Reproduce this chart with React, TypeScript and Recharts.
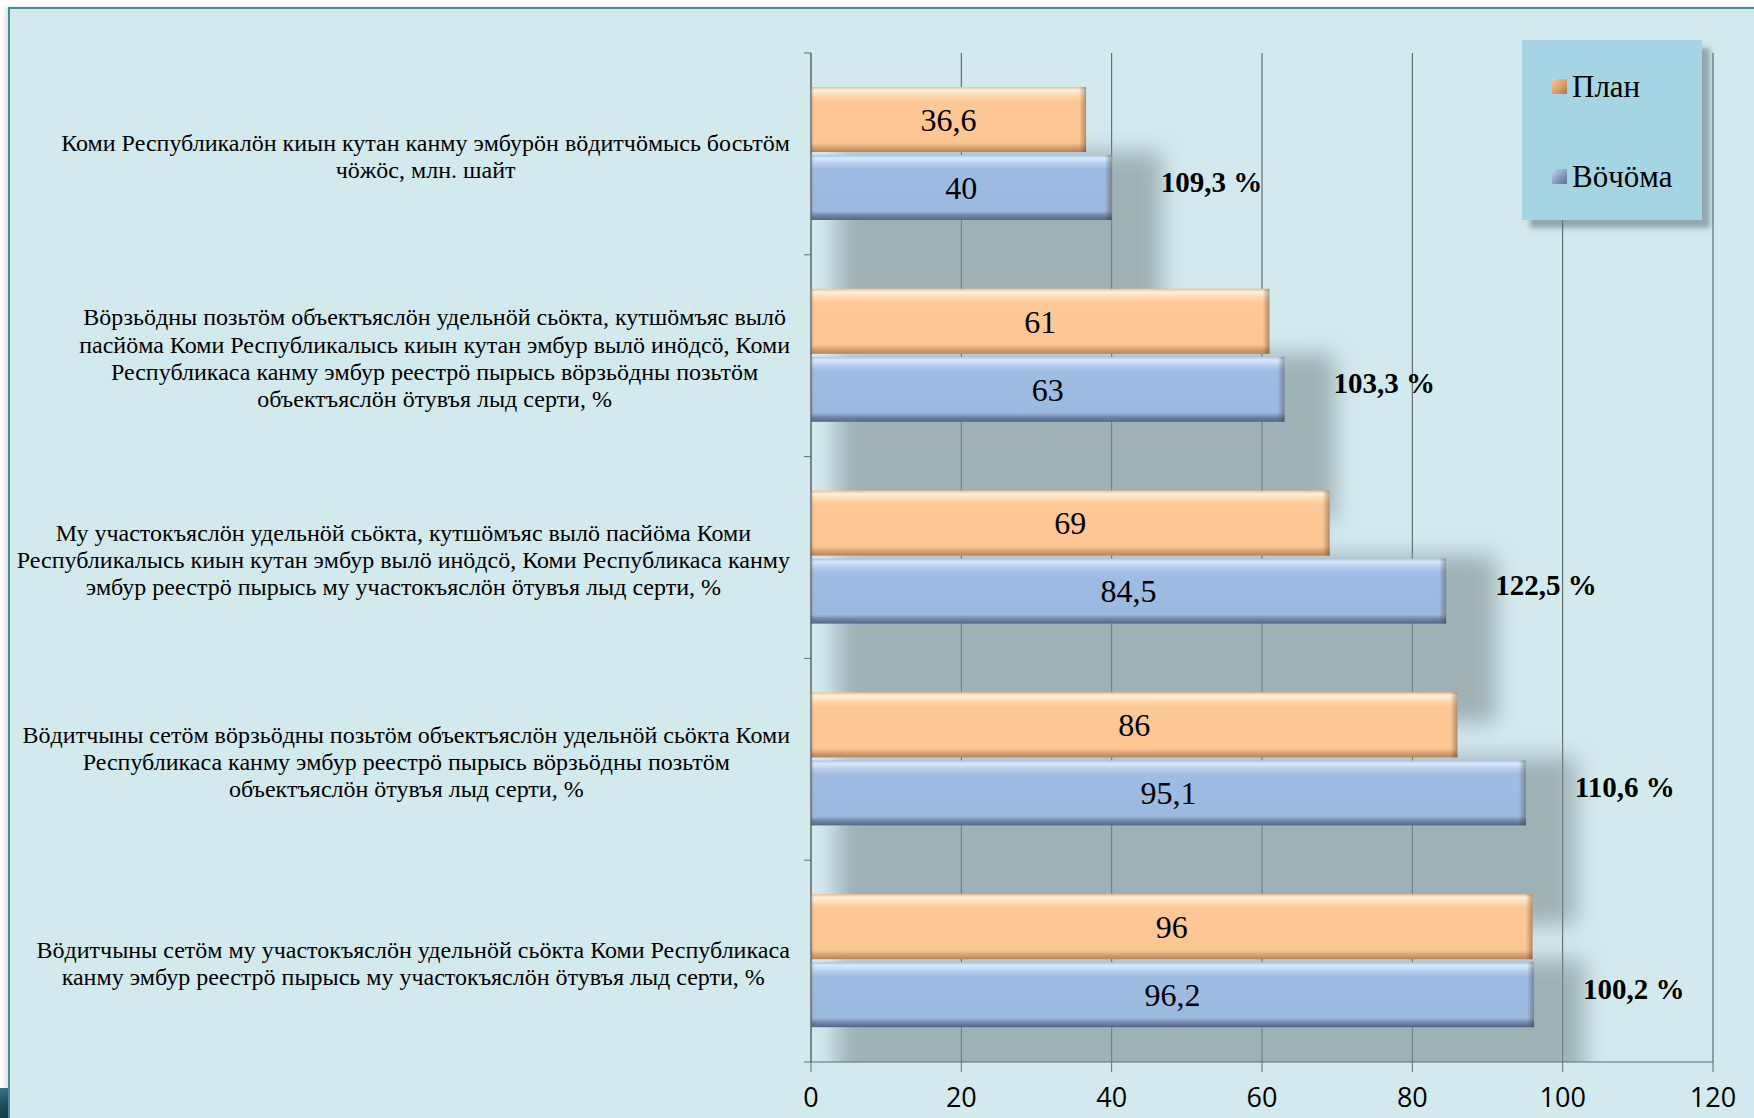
import { Bar, BarChart, CartesianGrid, LabelList, Legend, XAxis, YAxis } from 'recharts'

// Category labels, line breaks as in the source slide.
const categories = [
  'Коми Республикалӧн киын кутан канму эмбурӧн вӧдитчӧмысь босьтӧм\nчӧжӧс, млн. шайт',
  'Вӧрзьӧдны позьтӧм объектъяслӧн удельнӧй сьӧкта, кутшӧмъяс вылӧ\nпасйӧма Коми Республикалысь киын кутан эмбур вылӧ инӧдсӧ, Коми\nРеспубликаса канму эмбур реестрӧ пырысь вӧрзьӧдны позьтӧм\nобъектъяслӧн ӧтувъя лыд серти, %',
  'Му участокъяслӧн удельнӧй сьӧкта, кутшӧмъяс вылӧ пасйӧма Коми\nРеспубликалысь киын кутан эмбур вылӧ инӧдсӧ, Коми Республикаса канму\nэмбур реестрӧ пырысь му участокъяслӧн ӧтувъя лыд серти, %',
  'Вӧдитчыны сетӧм вӧрзьӧдны позьтӧм объектъяслӧн удельнӧй сьӧкта Коми\nРеспубликаса канму эмбур реестрӧ пырысь вӧрзьӧдны позьтӧм\nобъектъяслӧн ӧтувъя лыд серти, %',
  'Вӧдитчыны сетӧм му участокъяслӧн удельнӧй сьӧкта Коми Республикаса\nканму эмбур реестрӧ пырысь му участокъяслӧн ӧтувъя лыд серти, %',
]
const planValues = [36.6, 61, 69, 86, 96]
const actualValues = [40, 63, 84.5, 95.1, 96.2]
const percentLabels = ['109,3 %', '103,3 %', '122,5 %', '110,6 %', '100,2 %']
const xTicks = [0, 20, 40, 60, 80, 100, 120]
const seriesNames = ['План', 'Вӧчӧма']

const data = categories.map((name, i) => ({
  name,
  plan: planValues[i],
  actual: actualValues[i],
  pct: percentLabels[i],
}))

const WIDTH = 1754
const HEIGHT = 1118
const MARGIN = { top: 53, right: 41, bottom: 0, left: 0 }
const Y_AXIS_W = 811
const X_AXIS_H = 56
const PLOT_H = HEIGHT - MARGIN.top - X_AXIS_H
const PLOT_W = WIDTH - MARGIN.right - Y_AXIS_W
const BAND = PLOT_H / categories.length
const CAT_GAP = 34
const BAR_GAP = 3
const SERIF = '"Liberation Serif", "Times New Roman", serif'
const LABEL_FONT = 24
const LINE_H = 27.2
const LABEL_RIGHT = 790
const AXIS_COLOR = '#6b6b6b'

let measureCtx: CanvasRenderingContext2D | null = null

// Measures text width with the label font.
function measure(text: string): number {
  if (!measureCtx) measureCtx = document.createElement('canvas').getContext('2d')
  if (!measureCtx) return text.length * LABEL_FONT * 0.45
  measureCtx.font = `${LABEL_FONT}px ${SERIF}`
  return measureCtx.measureText(text).width
}

function formatValue(v: unknown): string {
  return String(v).replace('.', ',')
}

// Wrapped category label, centred in a block aligned to the axis, plus boundary tick marks.
function CategoryTick(props: any) {
  const { x, y, payload } = props
  const index = categories.indexOf(payload.value)
  const lines = String(payload.value).split('\n')
  const blockW = Math.max(...lines.map(measure))
  const cx = LABEL_RIGHT - blockW / 2
  const top = y - ((lines.length - 1) * LINE_H) / 2 + 2
  return (
    <g>
      <text textAnchor="middle" fontFamily={SERIF} fontSize={LABEL_FONT} fill="#000">
        {lines.map((line, i) => (
          <tspan key={i} x={cx} y={top + i * LINE_H} dy="0.35em">
            {line}
          </tspan>
        ))}
      </text>
      <line x1={x - 7} x2={x} y1={y - BAND / 2} y2={y - BAND / 2} stroke={AXIS_COLOR} />
      {index === categories.length - 1 && (
        <line x1={x - 7} x2={x} y1={y + BAND / 2} y2={y + BAND / 2} stroke={AXIS_COLOR} />
      )}
    </g>
  )
}

// Bar with a bevelled look.
function BevelRect({ x, y, width, height, fill }: any) {
  return (
    <g>
      <rect x={x} y={y} width={width} height={height} fill={fill} />
      <rect x={x} y={y} width={3} height={height} fill="url(#edgeLeft)" />
      <rect x={x + width - 7} y={y} width={7} height={height} fill="url(#edgeRight)" />
    </g>
  )
}

// Plan bar; also casts the soft shadow under the pair.
function PlanShape(props: any) {
  const { x, y, width, height, payload } = props
  const perUnit = width / payload.plan
  const maxW = Math.max(payload.plan, payload.actual) * perUnit
  return (
    <g>
      <g clipPath="url(#plotClip)">
        <rect
          x={x + 26}
          y={y + height}
          width={maxW + 24}
          height={height * 2 + BAR_GAP + CAT_GAP}
          fill="#7f9093"
          opacity={0.62}
          filter="url(#shadowBlur)"
        />
      </g>
      <BevelRect x={x} y={y} width={width} height={height} fill="url(#gPlan)" />
    </g>
  )
}

function ActualShape(props: any) {
  const { x, y, width, height } = props
  return <BevelRect x={x} y={y} width={width} height={height} fill="url(#gActual)" />
}

function PercentLabel(props: any) {
  const vb = props.viewBox ?? props
  const { x, y, width, height } = vb
  return (
    <text
      x={x + width + 49}
      y={y + height / 2 - 6}
      dy="0.35em"
      fontFamily={SERIF}
      fontWeight="bold"
      fontSize={29}
      fill="#000"
    >
      {props.value}
    </text>
  )
}

function LegendBox() {
  const iconBg = [
    'linear-gradient(135deg, #f3c99a 0%, #d99a62 60%, #a9764c 100%)',
    'linear-gradient(135deg, #c3d3ea 0%, #8196b8 60%, #5d6e8c 100%)',
  ]
  return (
    <div
      style={{
        position: 'relative',
        width: 180,
        height: 180,
        background: '#a5d5e2',
        boxShadow: '8px 8px 5px rgba(95,115,120,0.55)',
      }}
    >
      {seriesNames.map((name, i) => (
        <div key={name} style={{ position: 'absolute', left: 30, top: 30 + i * 90, height: 40 }}>
          <span
            style={{
              position: 'absolute',
              left: 0,
              top: 9,
              width: 15,
              height: 15,
              background: iconBg[i],
            }}
          />
          <span
            style={{
              position: 'absolute',
              left: 20,
              top: 0,
              fontFamily: SERIF,
              fontSize: 31,
              lineHeight: '34px',
              color: '#000',
              whiteSpace: 'nowrap',
            }}
          >
            {name}
          </span>
        </div>
      ))}
    </div>
  )
}

export default function App() {
  return (
    <div
      style={{
        position: 'absolute',
        left: 0,
        top: 0,
        width: WIDTH,
        height: HEIGHT,
        overflow: 'hidden',
        background: '#fff',
      }}
    >
      <div
        style={{
          position: 'absolute',
          left: 8,
          top: 7,
          width: WIDTH,
          height: HEIGHT,
          background: '#d2e9ee',
          borderLeft: '2px solid #3f8c9c',
          borderTop: '2px solid #3f8c9c',
          boxShadow: '-3px 0 4px rgba(0,0,0,0.12)',
        }}
      />
      <div
        style={{
          position: 'absolute',
          left: 0,
          top: 1088,
          width: 8,
          height: 30,
          background: 'linear-gradient(160deg, #3a7584 0%, #1b4957 60%, #143c48 100%)',
        }}
      />
      <div style={{ position: 'absolute', left: 0, top: 0 }}>
        <BarChart
          width={WIDTH}
          height={HEIGHT}
          data={data}
          layout="vertical"
          margin={MARGIN}
          barCategoryGap={CAT_GAP}
          barGap={BAR_GAP}
        >
          <defs>
            <linearGradient id="gPlan" x1="0" y1="0" x2="0" y2="1">
              <stop offset="0%" stopColor="#efbd8d" />
              <stop offset="5%" stopColor="#fff0da" />
              <stop offset="13%" stopColor="#ffd9b0" />
              <stop offset="22%" stopColor="#fdc897" />
              <stop offset="86%" stopColor="#fbc692" />
              <stop offset="93%" stopColor="#d8a274" />
              <stop offset="100%" stopColor="#b4825c" />
            </linearGradient>
            <linearGradient id="gActual" x1="0" y1="0" x2="0" y2="1">
              <stop offset="0%" stopColor="#a9c3e6" />
              <stop offset="5%" stopColor="#dbeafb" />
              <stop offset="13%" stopColor="#b7cfee" />
              <stop offset="22%" stopColor="#9fbce3" />
              <stop offset="86%" stopColor="#9cb9e0" />
              <stop offset="93%" stopColor="#7186a8" />
              <stop offset="100%" stopColor="#556789" />
            </linearGradient>
            <linearGradient id="edgeRight" x1="0" y1="0" x2="1" y2="0">
              <stop offset="0%" stopColor="#3c3020" stopOpacity={0} />
              <stop offset="100%" stopColor="#3c3020" stopOpacity={0.4} />
            </linearGradient>
            <linearGradient id="edgeLeft" x1="0" y1="0" x2="1" y2="0">
              <stop offset="0%" stopColor="#3c3020" stopOpacity={0.25} />
              <stop offset="100%" stopColor="#3c3020" stopOpacity={0} />
            </linearGradient>
            <filter id="shadowBlur" x="-20%" y="-50%" width="140%" height="200%">
              <feGaussianBlur stdDeviation={11} />
            </filter>
            <clipPath id="plotClip">
              <rect x={Y_AXIS_W + 1} y={MARGIN.top} width={PLOT_W} height={PLOT_H} />
            </clipPath>
          </defs>
          <CartesianGrid horizontal={false} stroke="#555" />
          <XAxis
            type="number"
            domain={[0, 120]}
            ticks={xTicks}
            height={X_AXIS_H}
            tickSize={10}
            tickMargin={16}
            stroke={AXIS_COLOR}
            tick={{ fontFamily: '"Open Sans"', fontSize: 27, fill: '#000' }}
          />
          <YAxis
            type="category"
            dataKey="name"
            width={Y_AXIS_W}
            interval={0}
            tickSize={0}
            tickMargin={0}
            tickLine={false}
            stroke={AXIS_COLOR}
            tick={<CategoryTick />}
          />
          <Legend
            layout="vertical"
            align="center"
            verticalAlign="middle"
            wrapperStyle={{ left: 1522, top: 40, width: 180, height: 180 }}
            content={() => <LegendBox />}
          />
          <Bar dataKey="plan" name={seriesNames[0]} shape={<PlanShape />} isAnimationActive={false}>
            <LabelList
              dataKey="plan"
              position="center"
              formatter={formatValue}
              fontFamily={SERIF}
              fontSize={32}
              fill="#000"
            />
          </Bar>
          <Bar dataKey="actual" name={seriesNames[1]} shape={<ActualShape />} isAnimationActive={false}>
            <LabelList
              dataKey="actual"
              position="center"
              formatter={formatValue}
              fontFamily={SERIF}
              fontSize={32}
              fill="#000"
            />
            <LabelList dataKey="pct" content={<PercentLabel />} />
          </Bar>
        </BarChart>
      </div>
    </div>
  )
}
